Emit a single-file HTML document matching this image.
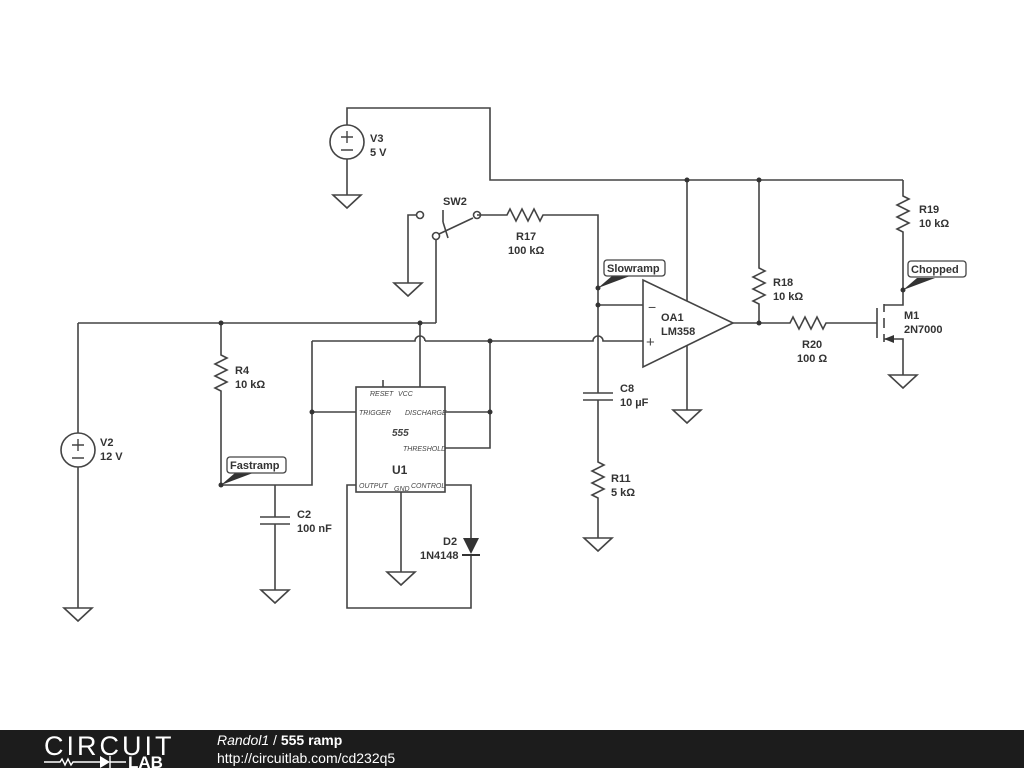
<!DOCTYPE html>
<html><head><style>
body{margin:0;width:1024px;height:768px;background:#fff;overflow:hidden;font-family:"Liberation Sans",sans-serif}
svg text{font-family:"Liberation Sans",sans-serif}
.l{font-size:11px;font-weight:bold;fill:#333}
.p{font-size:7px;font-style:italic;fill:#444}
</style></head><body>
<svg width="1024" height="768" viewBox="0 0 1024 768" xmlns="http://www.w3.org/2000/svg">
<g fill="none" stroke="#444" stroke-width="1.6">
<circle cx="347" cy="142" r="17"/>
<path d="M347 125V108H490V180H903"/>
<path d="M347 159V195"/>
<path d="M333 195h28l-14 13z"/>
<path d="M903 180V196l6 3-12 6 12 6-12 6 12 6-12 6 6 3V305H884"/>
<path d="M877 308V338M884 304V312M884 318V328M884 334V342"/>
<path d="M884 339H903V375"/>
<path d="M889 375h28l-14 13z"/>
<path d="M759 180V268l6 3-12 6 12 6-12 6 12 6-12 6 6 3V323"/>
<path d="M733 323H790l3 -6 6 12 6-12 6 12 6-12 6 12 3-6H877"/>
<path d="M643 280V367L733 323Z"/>
<path d="M687 180V301M687 345V410"/>
<path d="M673 410h28l-14 13z"/>
<path d="M598 305H643"/>
<path d="M425 341H593a5 5 0 0 1 10 0H643"/>
<path d="M477 215H507l3-6 6 12 6-12 6 12 6-12 6 12 3-6H598V393M583 393H613M583 400H613M598 400V462l6 3-12 6 12 6-12 6 12 6-12 6 6 3V538"/>
<path d="M584 538h28l-14 13z"/>
<circle cx="420" cy="215" r="3.5"/><circle cx="477" cy="215" r="3.5"/><circle cx="436" cy="236" r="3.5"/>
<path d="M439 234L473 218M443 222L448 238M443 210V222"/>
<path d="M416 215H408V283"/>
<path d="M394 283h28l-14 13z"/>
<path d="M436 240V323"/>
<path d="M78 323H436"/>
<path d="M420 323V387"/>
<path d="M312 341H415a5 5 0 0 1 10 0"/>
<path d="M383 380V387"/>
<rect x="356" y="387" width="89" height="105"/>
<path d="M356 412H312M312 341V485H221M445 412H490M445 448H490V341"/>
<path d="M356 485H347V608H471V555M445 485H471V538"/>
<path d="M401 492V572M387 572h28l-14 13z"/>
<path d="M221 323V355l6 3-12 6 12 6-12 6 12 6-12 6 6 3V485"/>
<path d="M275 485V517M260 517H290M260 524H290M275 524V590M261 590h28l-14 13z"/>
<circle cx="78" cy="450" r="17"/>
<path d="M78 323V433M78 467V608M64 608h28l-14 13z"/>
</g>
<path d="M463 538H479L471 554Z" fill="#333"/>
<path d="M462 555H480" stroke="#333" stroke-width="2"/>
<path d="M884 339l10-4v8z" fill="#333"/>
<g fill="#333">
<circle cx="687" cy="180" r="2.5"/><circle cx="759" cy="180" r="2.5"/><circle cx="759" cy="323" r="2.5"/>
<circle cx="598" cy="305" r="2.5"/><circle cx="598" cy="288" r="2.5"/><circle cx="490" cy="341" r="2.5"/>
<circle cx="490" cy="412" r="2.5"/><circle cx="312" cy="412" r="2.5"/><circle cx="221" cy="323" r="2.5"/>
<circle cx="420" cy="323" r="2.5"/><circle cx="221" cy="485" r="2.5"/><circle cx="903" cy="290" r="2.5"/>
</g>
<g stroke="#444" stroke-width="1.4"><path d="M341 137h12M347 131v12M341 150h12M72 445h12M78 439v12M72 458h12"/></g>
<g fill="#333"><path d="M598 288L612 276H630Z"/><path d="M903 290L917 278H935Z"/><path d="M221 485L235 473H253Z"/></g>
<g fill="#fff" stroke="#444" stroke-width="1.3">
<rect x="604" y="260" width="61" height="16" rx="3"/>
<rect x="908" y="261" width="58" height="16" rx="3"/>
<rect x="227" y="457" width="59" height="16" rx="3"/>
</g>
<text class="l" x="607" y="272">Slowramp</text>
<text class="l" x="911" y="273">Chopped</text>
<text class="l" x="230" y="469">Fastramp</text>
<text class="l" x="370" y="142">V3</text><text class="l" x="370" y="156">5 V</text>
<text class="l" x="100" y="446">V2</text><text class="l" x="100" y="460">12 V</text>
<text class="l" x="443" y="205">SW2</text>
<text class="l" x="516" y="240">R17</text><text class="l" x="508" y="254">100 kΩ</text>
<text class="l" x="919" y="213">R19</text><text class="l" x="919" y="227">10 kΩ</text>
<text class="l" x="773" y="286">R18</text><text class="l" x="773" y="300">10 kΩ</text>
<text class="l" x="661" y="321">OA1</text><text class="l" x="661" y="335">LM358</text>
<text class="l" x="904" y="319">M1</text><text class="l" x="904" y="333">2N7000</text>
<text class="l" x="802" y="348">R20</text><text class="l" x="797" y="362">100 Ω</text>
<text class="l" x="620" y="392">C8</text><text class="l" x="620" y="406">10 µF</text>
<text class="l" x="611" y="482">R11</text><text class="l" x="611" y="496">5 kΩ</text>
<text class="l" x="235" y="374">R4</text><text class="l" x="235" y="388">10 kΩ</text>
<text class="l" x="297" y="518">C2</text><text class="l" x="297" y="532">100 nF</text>
<text class="l" x="443" y="545">D2</text><text class="l" x="420" y="559">1N4148</text>
<text class="l" x="392" y="474" style="font-size:12px">U1</text>
<text class="p" x="392" y="436" style="font-size:10px;font-weight:bold">555</text>
<text class="p" x="370" y="396" text-decoration="overline">RESET</text>
<text class="p" x="398" y="396">VCC</text>
<text class="p" x="359" y="415">TRIGGER</text>
<text class="p" x="405" y="415">DISCHARGE</text>
<text class="p" x="403" y="451">THRESHOLD</text>
<text class="p" x="359" y="488">OUTPUT</text>
<text class="p" x="394" y="491">GND</text>
<text class="p" x="411" y="488">CONTROL</text>
<text x="648" y="312" font-size="14" fill="#444">−</text>
<text x="646" y="347" font-size="15" fill="#444">+</text>
<rect x="0" y="730" width="1024" height="38" fill="#1c1c1c"/>
<text x="44" y="755" font-size="27" fill="#fff" letter-spacing="0.5" textLength="128">CIRCUIT</text>
<path d="M44 762H60l2-3 3 6 3-6 3 6 2-3H100M110 756v12M110 762H126" stroke="#fff" stroke-width="1.4" fill="none"/>
<path d="M100 756v12l10-6z" fill="#fff"/>
<text x="128" y="768" font-size="17" font-weight="bold" fill="#fff">LAB</text>
<text x="217" y="745" font-size="14" fill="#fff"><tspan font-style="italic">Randol1</tspan> / <tspan font-weight="bold">555 ramp</tspan></text>
<text x="217" y="763" font-size="14" fill="#fff">http://circuitlab.com/cd232q5</text>
</svg>
</body></html>
